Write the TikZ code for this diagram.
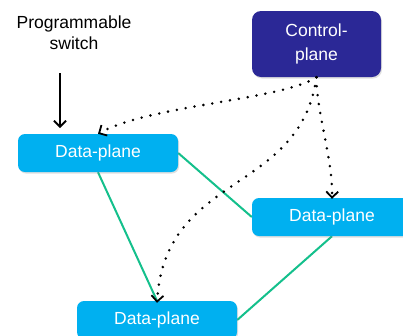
\documentclass[tikz,border=0pt]{standalone}
\usepackage{fontspec}
\setmainfont{Liberation Sans}
\usetikzlibrary{arrows.meta,shadows,backgrounds}
\definecolor{dpfill}{RGB}{0,176,240}
\definecolor{cpfill}{RGB}{43,40,150}
\definecolor{linkgreen}{RGB}{20,192,140}
\tikzset{
  box/.style={rounded corners=7pt, text=white, font=\fontsize{17.5}{24}\selectfont,
    align=center, inner sep=0pt,
    drop shadow={shadow xshift=1pt, shadow yshift=-1.5pt, opacity=0.25}},
  dpbox/.style={box, fill=dpfill, minimum width=160pt, minimum height=38pt},
  cpbox/.style={box, fill=cpfill, minimum width=129pt, minimum height=66pt, rounded corners=9pt},
  link/.style={draw=linkgreen, line width=2pt},
  ctrl/.style={line width=2.8pt, line cap=round, dash pattern=on 0pt off 9pt,
    -{Straight Barb[length=6pt,width=12pt,line width=1.8pt]}},
  swarrow/.style={line width=1.8pt, -{Straight Barb[length=6pt,width=12pt,line width=1.8pt]}},
  lbl/.style={font=\fontsize{17.5}{21}\selectfont, align=center}
}
\begin{document}
\begin{tikzpicture}[x=1pt,y=-1pt]
\clip (0,0) rectangle (403,335);
\useasboundingbox (0,0) rectangle (403,335);
% nodes
\node[cpbox] (cp) at (316.5,44) {Control-\\plane};
\node[dpbox] (dp1) at (98,153) {Data-plane};
\node[dpbox] (dp2) at (332,217) {Data-plane};
\node[dpbox] (dp3) at (157,320) {Data-plane};
\node[lbl] (sw) at (74,33) {Programmable\\switch};
\coordinate (swtop) at (60,73);
\coordinate (swtip) at (60,128);
% green links behind boxes
\begin{scope}[on background layer]
\fill[white] (0,0) rectangle (403,335);
\draw[link] (dp1.east) -- (dp2.west);
\draw[link] (dp1.south) -- (dp3.north);
\draw[link] (dp2.south) -- (dp3.east);
\end{scope}
% switch arrow
\draw[swarrow] (swtop) -- (swtip);
% control arrows
\draw[ctrl] (cp.south) .. controls (282,100) and (150,105) .. (dp1.north);
\draw[ctrl] (cp.south) .. controls (316,110) and (333,160) .. ([yshift=-1pt]dp2.north);
\draw[ctrl] (cp.south) .. controls (300,195) and (165,172) .. ([yshift=-2pt]dp3.north);
\end{tikzpicture}
\end{document}
